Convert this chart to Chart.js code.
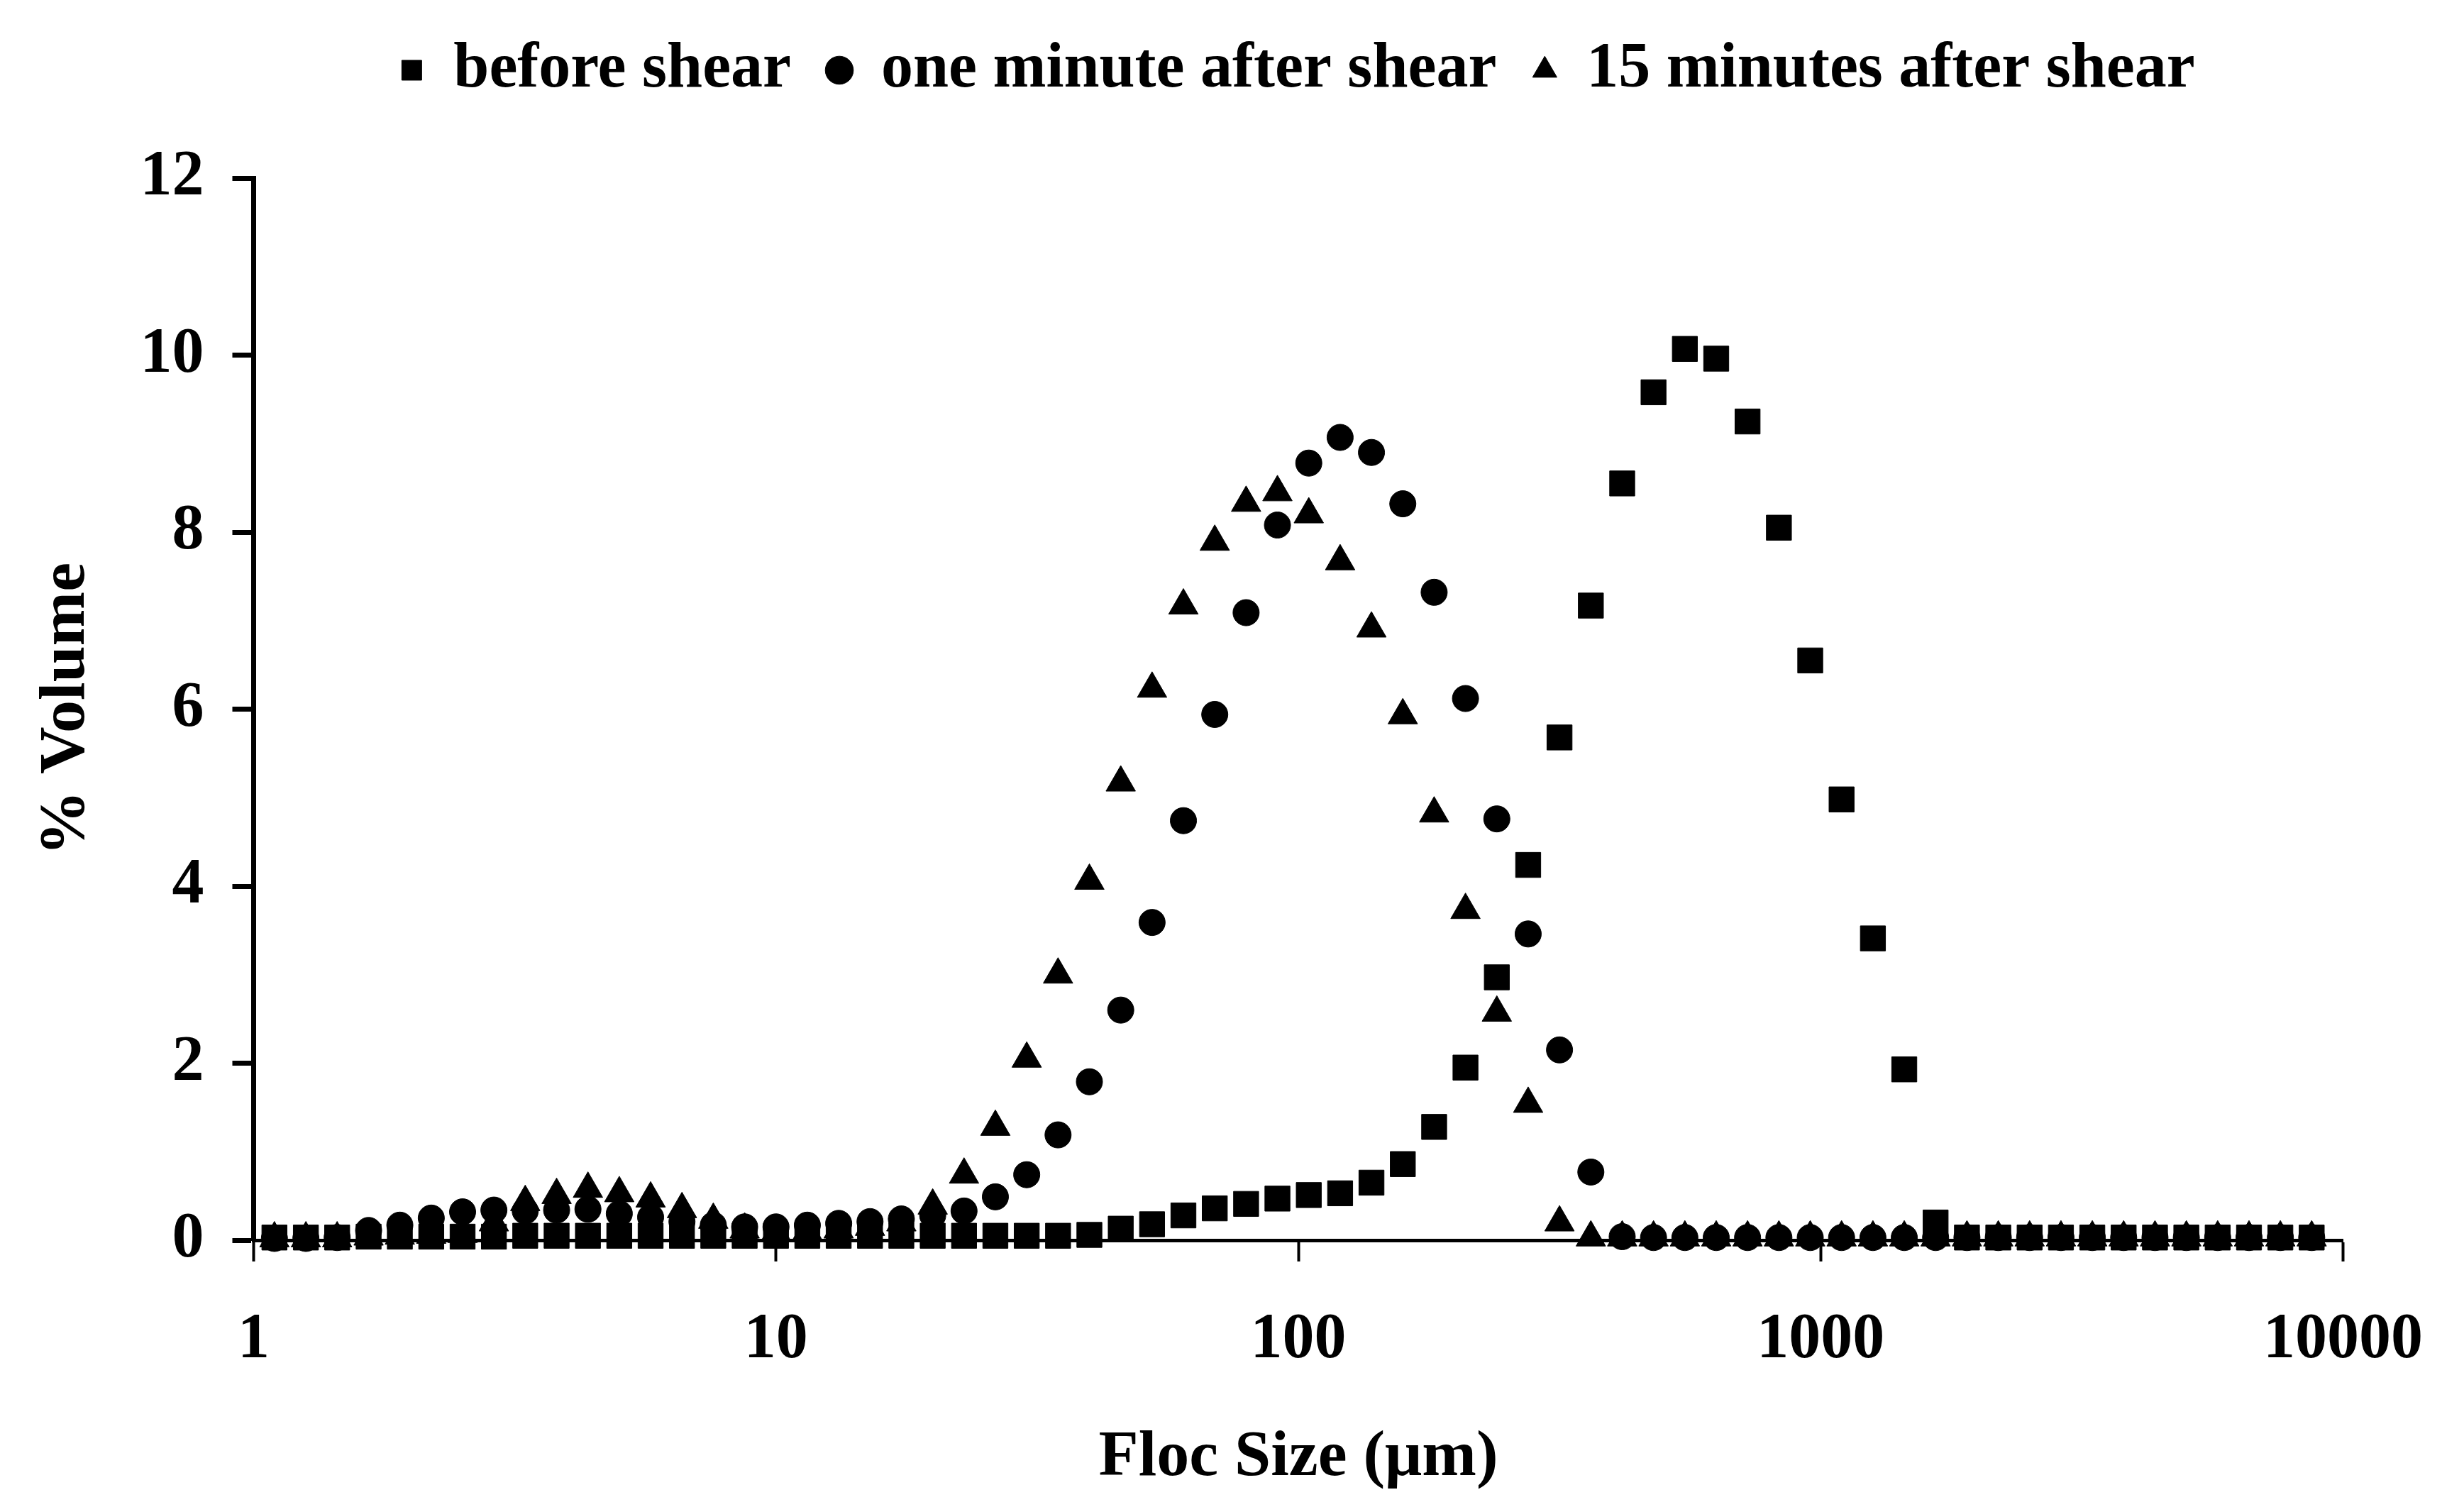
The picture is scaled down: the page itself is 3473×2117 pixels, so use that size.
<!DOCTYPE html>
<html>
<head>
<meta charset="utf-8">
<script src="https://cdn.jsdelivr.net/npm/chart.js@4/dist/chart.umd.min.js"></script>
<style>
  html, body { margin: 0; padding: 0; background: #ffffff; }
  #wrap { width: 3473px; height: 2117px; position: relative; }
</style>
</head>
<body>
<div id="wrap"><canvas id="c"></canvas></div>
<script>
// Size classes (µm) of the particle sizer
const flocSizes = [
  1.096, 1.259, 1.445, 1.660, 1.905, 2.188, 2.512, 2.884, 3.311, 3.802,
  4.365, 5.012, 5.754, 6.607, 7.586, 8.710, 10.000, 11.482, 13.183, 15.136,
  17.378, 19.953, 22.909, 26.303, 30.200, 34.674, 39.811, 45.709, 52.481, 60.256,
  69.183, 79.433, 91.201, 104.713, 120.226, 138.038, 158.489, 181.970, 208.930, 239.883,
  275.423, 316.228, 363.078, 416.869, 478.630, 549.541, 630.957, 724.436, 831.764, 954.993,
  1096.478, 1258.925, 1445.440, 1659.587, 1905.461, 2187.762, 2511.886, 2884.032, 3311.311, 3801.894,
  4365.158, 5011.872, 5754.399, 6606.934, 7585.776, 8709.636
];

// % Volume, before shear (squares)
const beforeShear = [
  0.03, 0.03, 0.03, 0.04, 0.04, 0.04, 0.04, 0.04, 0.05, 0.05,
  0.05, 0.05, 0.05, 0.05, 0.05, 0.05, 0.05, 0.05, 0.05, 0.05,
  0.05, 0.05, 0.05, 0.05, 0.05, 0.05, 0.06, 0.13, 0.18, 0.28,
  0.36, 0.41, 0.47, 0.51, 0.53, 0.65, 0.86, 1.28, 1.95, 2.97,
  4.24, 5.68, 7.17, 8.55, 9.58, 10.07, 9.96, 9.25, 8.05, 6.55,
  4.98, 3.41, 1.93, 0.20, 0.03, 0.03, 0.03, 0.03, 0.03, 0.03,
  0.03, 0.03, 0.03, 0.03, 0.03, 0.03
];

// % Volume, one minute after shear (circles)
const oneMinuteAfter = [
  0.02, 0.02, 0.03, 0.11, 0.17, 0.25, 0.32, 0.34, 0.33, 0.34,
  0.35, 0.30, 0.26, 0.21, 0.17, 0.15, 0.15, 0.17, 0.19, 0.21,
  0.24, 0.28, 0.33, 0.49, 0.74, 1.19, 1.79, 2.60, 3.59, 4.74,
  5.94, 7.09, 8.08, 8.78, 9.07, 8.90, 8.32, 7.32, 6.12, 4.76,
  3.46, 2.15, 0.77, 0.04, 0.03, 0.03, 0.03, 0.03, 0.03, 0.03,
  0.03, 0.03, 0.03, 0.03, 0.03, 0.03, 0.03, 0.03, 0.03, 0.03,
  0.03, 0.03, 0.03, 0.03, 0.03, 0.03
];

// % Volume, 15 minutes after shear (triangles)
const fifteenMinutesAfter = [
  0.02, 0.02, 0.02, 0.04, 0.05, 0.06, 0.07, 0.20, 0.43, 0.51,
  0.58, 0.53, 0.47, 0.35, 0.23, 0.12, 0.09, 0.10, 0.12, 0.15,
  0.20, 0.39, 0.74, 1.28, 2.05, 3.00, 4.06, 5.17, 6.23, 7.17,
  7.89, 8.33, 8.45, 8.20, 7.67, 6.91, 5.93, 4.82, 3.73, 2.57,
  1.54, 0.20, 0.03, 0.03, 0.03, 0.03, 0.03, 0.03, 0.03, 0.03,
  0.03, 0.03, 0.03, 0.03, 0.03, 0.03, 0.03, 0.03, 0.03, 0.03,
  0.03, 0.03, 0.03, 0.03, 0.03, 0.03
];

const seriesLabels = ['before shear', 'one minute after shear', '15 minutes after shear'];
const xTickValues = [1, 10, 100, 1000, 10000];
const xTickLabels = ['1', '10', '100', '1000', '10000'];
const yTickValues = [0, 2, 4, 6, 8, 10, 12];
const xTitle = 'Floc Size (\u03BCm)';
const yTitle = '% Volume';

function toPoints(ys) {
  return flocSizes.map((x, i) => ({ x: x, y: ys[i] }));
}

const FONT = "'Liberation Serif', 'Times New Roman', serif";
Chart.defaults.font.family = FONT;
Chart.defaults.font.weight = 'bold';
Chart.defaults.font.size = 90;
Chart.defaults.color = '#000000';

// Empty layout box that keeps a gap between the legend and the plot area
const legendGap = {
  id: 'legendGap',
  beforeInit(chart) {
    const gapBox = {
      position: 'top',
      weight: 500,
      fullSize: false,
      options: { stackWeight: 1 },
      left: 0, top: 0, right: 0, bottom: 0, width: 0, height: 0,
      isHorizontal() { return true; },
      update(maxWidth, maxHeight) {
        this.width = maxWidth;
        this.height = Math.min(97, maxHeight);
      },
      draw() {}
    };
    Chart.layouts.addBox(chart, gapBox);
  }
};

const ctx = document.getElementById('c').getContext('2d');

new Chart(ctx, {
  type: 'scatter',
  plugins: [legendGap],
  data: {
    datasets: [
      {
        label: seriesLabels[0],
        data: toPoints(beforeShear),
        pointStyle: 'rect',
        pointRadius: 25,
        backgroundColor: '#000000',
        borderColor: '#000000',
        borderWidth: 1,
        clip: false
      },
      {
        label: seriesLabels[1],
        data: toPoints(oneMinuteAfter),
        pointStyle: 'circle',
        pointRadius: 18.5,
        backgroundColor: '#000000',
        borderColor: '#000000',
        borderWidth: 1,
        clip: false
      },
      {
        label: seriesLabels[2],
        data: toPoints(fifteenMinutesAfter),
        pointStyle: 'triangle',
        pointRadius: 24,
        backgroundColor: '#000000',
        borderColor: '#000000',
        borderWidth: 1,
        clip: false
      }
    ]
  },
  options: {
    responsive: true,
    maintainAspectRatio: false,
    animation: false,
    devicePixelRatio: 1,
    layout: { padding: { top: 0, left: 0, right: 133, bottom: 0 } },
    plugins: {
      tooltip: { enabled: false },
      legend: {
        display: true,
        position: 'top',
        fullSize: false,
        labels: {
          usePointStyle: true,
          boxWidth: 28,
          boxHeight: 28,
          padding: 54,
          color: '#000000',
          font: { family: FONT, size: 90, weight: 'bold' }
        }
      }
    },
    scales: {
      x: {
        type: 'logarithmic',
        position: 'bottom',
        min: 1,
        max: 10000,
        afterFit: (scale) => { scale.height = 369; },
        afterBuildTicks: (scale) => { scale.ticks = xTickValues.map(v => ({ value: v, major: true })); },
        ticks: {
          autoSkip: false,
          maxRotation: 0,
          padding: 58,
          color: '#000000',
          font: { family: FONT, size: 90, weight: 'bold' },
          callback: (value) => {
            const i = xTickValues.indexOf(value);
            return i >= 0 ? xTickLabels[i] : '';
          }
        },
        grid: {
          display: true,
          drawOnChartArea: false,
          drawTicks: true,
          tickLength: 30,
          tickWidth: 4,
          tickColor: '#000000'
        },
        border: { display: true, color: '#000000', width: 5 },
        title: {
          display: true,
          text: xTitle,
          color: '#000000',
          font: { family: FONT, size: 92, weight: 'bold' },
          padding: { top: 0, bottom: 7 }
        }
      },
      y: {
        type: 'linear',
        position: 'left',
        min: 0,
        max: 12,
        afterFit: (scale) => { scale.width = 357.5; },
        afterBuildTicks: (scale) => { scale.ticks = yTickValues.map(v => ({ value: v })); },
        ticks: {
          padding: 40,
          color: '#000000',
          font: { family: FONT, size: 90, weight: 'bold' },
          callback: (value) => String(value)
        },
        grid: {
          display: true,
          drawOnChartArea: false,
          drawTicks: true,
          tickLength: 30,
          tickWidth: 7,
          tickColor: '#000000'
        },
        border: { display: true, color: '#000000', width: 7 },
        title: {
          display: true,
          text: yTitle,
          color: '#000000',
          font: { family: FONT, size: 92, weight: 'bold' },
          padding: { top: 39, bottom: 0 }
        }
      }
    }
  }
});
</script>
</body>
</html>
